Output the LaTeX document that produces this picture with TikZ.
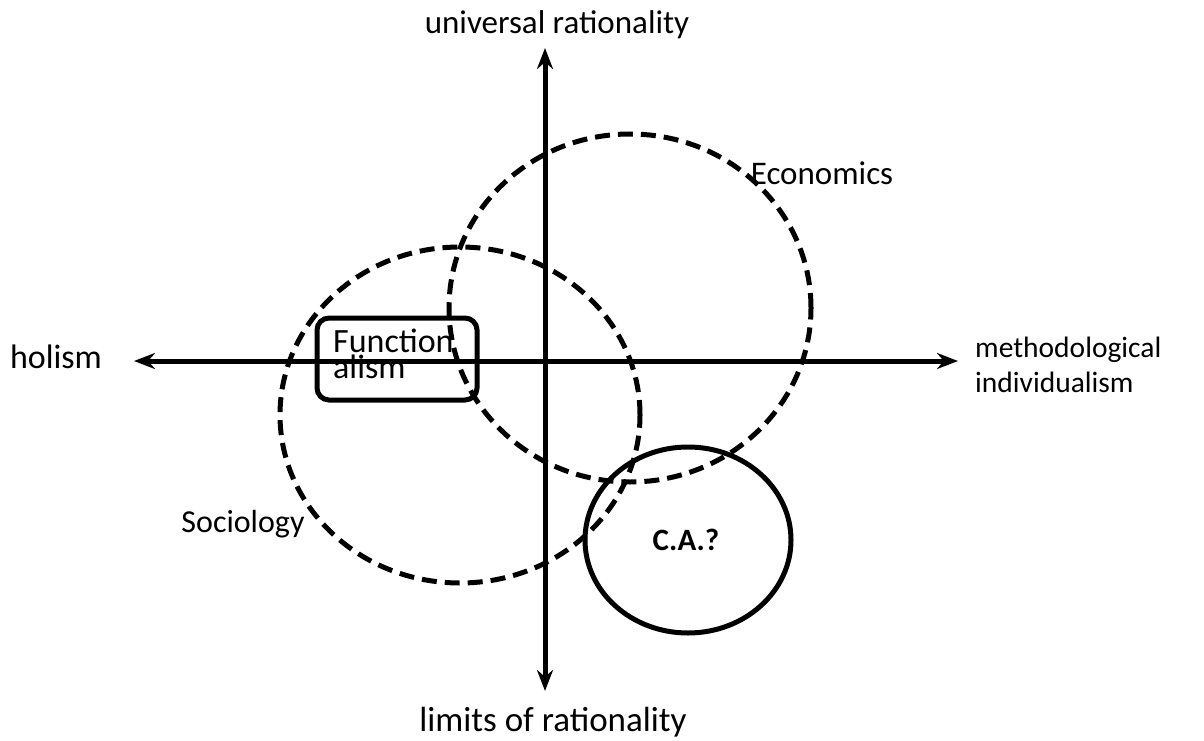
\documentclass[tikz,border=0pt]{standalone}
\usepackage{fontspec}
\setmainfont{Carlito}
\usetikzlibrary{arrows.meta,shapes.geometric}
\tikzset{
  axis/.style={line width=5pt,{Stealth[length=21pt,width=16pt]}-{Stealth[length=21pt,width=16pt]}},
  dashring/.style={ellipse,draw,line width=5pt,dash pattern=on 15pt off 8pt,inner sep=0pt},
  solidring/.style={ellipse,draw,line width=5pt,inner sep=0pt},
  lbl/.style={inner sep=0pt},
}
\newcommand{\fs}[1]{\fontsize{#1}{#1}\selectfont}
\begin{document}
\begin{tikzpicture}[x=1pt,y=-1pt]
\useasboundingbox (0,0) rectangle (1204,741);
% axes
\coordinate (top) at (545,48);
\coordinate (bot) at (545,691);
\coordinate (left) at (134,361);
\coordinate (right) at (958,361);
\draw[axis] (top) -- (bot);
\draw[axis] (left) -- (right);
% rings
\node[dashring,minimum width=362pt,minimum height=348pt] (econ) at (630,308) {};
\node[dashring,minimum width=360pt,minimum height=336pt] (soc) at (460,415) {};
\node[solidring,minimum width=206pt,minimum height=186pt] (ca) at (688,540) {};
% functionalism box
\draw[line width=5pt,rounded corners=12pt] (317,318) rectangle (477,400);
\node[lbl,anchor=base west,align=left,font=\fontsize{34}{26}\selectfont] (fun) at (333,378) {Function\\alism};
% labels
\node[lbl,font=\fs{33}] (ur) at (557,25) {universal rationality};
\node[lbl,font=\fs{35}] (lr) at (553,722) {limits of rationality};
\node[lbl,font=\fs{34}] (hol) at (56,357) {holism};
\node[lbl,anchor=base west,font=\fs{29.5}] (mi1) at (975,357) {methodological};
\node[lbl,anchor=base west,font=\fs{29.5}] (mi2) at (975,392) {individualism};
\node[lbl,font=\fs{33}] (ecl) at (822,173) {Economics};
\node[lbl,font=\fs{32}] (socl) at (243,524) {Sociology};
\node[lbl,font=\fs{31}\bfseries] (cal) at (686,540) {C.A.?};
\end{tikzpicture}
\end{document}
